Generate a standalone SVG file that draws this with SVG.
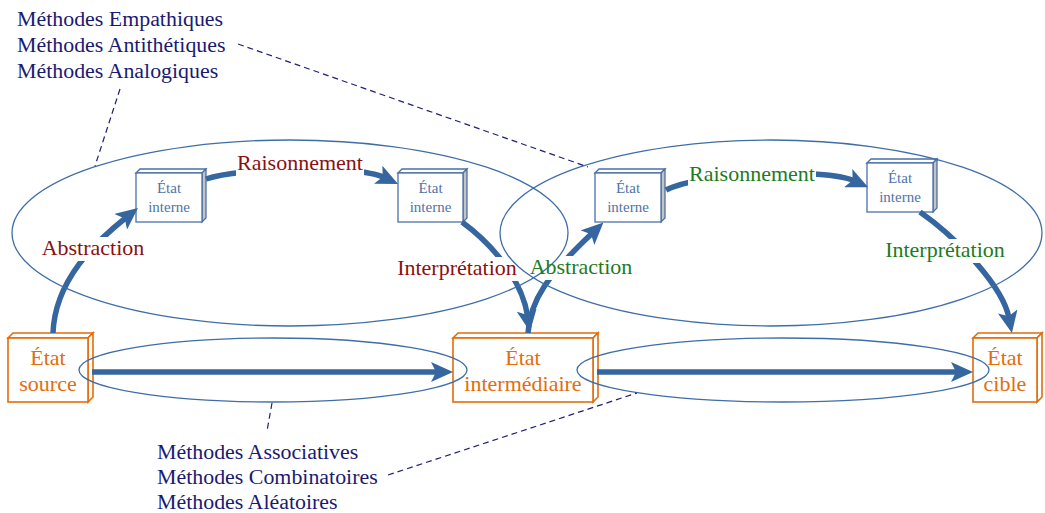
<svg xmlns="http://www.w3.org/2000/svg" width="1045" height="513" viewBox="0 0 1045 513">
  <style>
    .serif { font-family: "Liberation Serif", "Times New Roman", serif; }
    .method { fill: #1a1a72; font-size: 21.9px; }
    .state { fill: #e46c0a; font-size: 22px; text-anchor: middle; }
    .inner { fill: #4f73a8; font-size: 15px; text-anchor: middle; }
    .red { fill: #8b1010; font-size: 22px; text-anchor: middle; }
    .green { fill: #1e7b1e; font-size: 22px; text-anchor: middle; }
    .obox { fill: #ffffff; stroke: #e46c0a; stroke-width: 1.6; stroke-linejoin: miter; }
    .bbox { fill: #ffffff; stroke: #4a70a8; stroke-width: 1.3; }
    .bside { fill: #c4c4c4; stroke: #4a70a8; stroke-width: 1.3; }
    .zone { fill: none; stroke: #3f6da8; stroke-width: 1.3; }
    .flow { fill: none; stroke: #3566a0; stroke-width: 5.5; marker-end: url(#head); }
    .link { fill: none; stroke: #1f1f7a; stroke-width: 1.2; stroke-dasharray: 6 4; }
    .mask { fill: #ffffff; }
  </style>
  <defs>
    <marker id="head" markerUnits="userSpaceOnUse" viewBox="0 0 22 20" markerWidth="22" markerHeight="20" refX="6" refY="10" orient="auto">
      <path d="M0,0 L22,10 L0,20 L5,10 z" fill="#3566a0"/>
    </marker>
  </defs>

  <!-- method lists -->
  <g id="methods-top" class="serif method">
    <text x="17" y="26">Méthodes Empathiques</text>
    <text x="17" y="52">Méthodes Antithétiques</text>
    <text x="17" y="78">Méthodes Analogiques</text>
  </g>
  <g id="methods-bottom" class="serif method">
    <text x="157" y="459">Méthodes Associatives</text>
    <text x="157" y="484">Méthodes Combinatoires</text>
    <text x="157" y="509">Méthodes Aléatoires</text>
  </g>

  <!-- state boxes -->
  <g id="state-source">
    <path class="obox" d="M8,338 L13,333 L93,333 L88,338 Z"/>
    <path class="obox" d="M88,338 L93,333 L93,397 L88,402 Z"/>
    <rect class="obox" x="8" y="338" width="80" height="64"/>
    <text class="serif state" x="48" y="365">État</text>
    <text class="serif state" x="48" y="391">source</text>
  </g>
  <g id="state-intermediate">
    <path class="obox" d="M453,338 L458,333 L598,333 L593,338 Z"/>
    <path class="obox" d="M593,338 L598,333 L598,397 L593,402 Z"/>
    <rect class="obox" x="453" y="338" width="140" height="64"/>
    <text class="serif state" x="523" y="365">État</text>
    <text class="serif state" x="523" y="391">intermédiaire</text>
  </g>
  <g id="state-target">
    <path class="obox" d="M973,338 L978,333 L1042,333 L1037,338 Z"/>
    <path class="obox" d="M1037,338 L1042,333 L1042,397 L1037,402 Z"/>
    <rect class="obox" x="973" y="338" width="64" height="64"/>
    <text class="serif state" x="1005" y="365">État</text>
    <text class="serif state" x="1005" y="391">cible</text>
  </g>

  <!-- internal states -->
  <g id="inner-1">
    <path class="bbox" d="M136,173 L140,169 L206,169 L202,173 Z"/>
    <path class="bside" d="M202,173 L206,169 L206,218 L202,222 Z"/>
    <rect class="bbox" x="136" y="173" width="66" height="49"/>
    <text class="serif inner" x="169" y="193">État</text>
    <text class="serif inner" x="169" y="212">interne</text>
  </g>
  <g id="inner-2">
    <path class="bbox" d="M398,173 L402,169 L467,169 L463,173 Z"/>
    <path class="bside" d="M463,173 L467,169 L467,218 L463,222 Z"/>
    <rect class="bbox" x="398" y="173" width="65" height="49"/>
    <text class="serif inner" x="430.5" y="193">État</text>
    <text class="serif inner" x="430.5" y="212">interne</text>
  </g>
  <g id="inner-3">
    <path class="bbox" d="M595,173 L599,169 L665,169 L661,173 Z"/>
    <path class="bside" d="M661,173 L665,169 L665,218 L661,222 Z"/>
    <rect class="bbox" x="595" y="173" width="66" height="49"/>
    <text class="serif inner" x="628" y="193">État</text>
    <text class="serif inner" x="628" y="212">interne</text>
  </g>
  <g id="inner-4">
    <path class="bbox" d="M867,163 L871,159 L937,159 L933,163 Z"/>
    <path class="bside" d="M933,163 L937,159 L937,208 L933,212 Z"/>
    <rect class="bbox" x="867" y="163" width="66" height="49"/>
    <text class="serif inner" x="900" y="183">État</text>
    <text class="serif inner" x="900" y="202">interne</text>
  </g>

  <!-- connectors -->
  <g id="connectors">
    <path class="flow" d="M53,333 C55,280 95.5,242 125.5,218"/>
    <path class="flow" d="M206,179 C240,167 356.6,164.7 383.6,177.3"/>
    <path class="flow" d="M462,222 C500,250 523,286 527.6,316"/>
    <path class="flow" d="M528,333 C530,300 548,275 591.8,233.5"/>
    <path class="flow" d="M666,190 C700,172 826,168 853.6,180.6"/>
    <path class="flow" d="M920,212 C960,240 1003,288 1008.8,317.3"/>
    <path class="flow" d="M92,372 L437,372"/>
    <path class="flow" d="M597,372 L957,372"/>
  </g>

  <!-- clear space behind step labels -->
  <g id="label-backs" class="mask">
    <rect x="40" y="237" width="106" height="24"/>
    <rect x="236" y="152" width="128" height="24"/>
    <rect x="396" y="257" width="123" height="24"/>
    <rect x="529" y="256" width="105" height="24"/>
    <rect x="688" y="163" width="128" height="24"/>
    <rect x="885" y="239" width="121" height="24"/>
  </g>

  <!-- method zones -->
  <g id="zones">
    <ellipse class="zone" cx="290" cy="233" rx="278" ry="93"/>
    <ellipse class="zone" cx="771" cy="233" rx="271" ry="93"/>
    <ellipse class="zone" cx="273" cy="370" rx="194" ry="32"/>
    <ellipse class="zone" cx="783" cy="370" rx="206" ry="32"/>
  </g>

  <!-- dashed leaders -->
  <g id="leaders">
    <path class="link" d="M120,89 L95,166"/>
    <path class="link" d="M238,44 L588,167"/>
    <path class="link" d="M272,403 L267,431"/>
    <path class="link" d="M388,475 L637,393"/>
  </g>

  <!-- step labels -->
  <g id="labels-left" class="serif red">
    <text x="93" y="255">Abstraction</text>
    <text x="300" y="170">Raisonnement</text>
    <text x="457" y="275">Interprétation</text>
  </g>
  <g id="labels-right" class="serif green">
    <text x="581" y="274">Abstraction</text>
    <text x="752" y="181">Raisonnement</text>
    <text x="945" y="257">Interprétation</text>
  </g>
</svg>
